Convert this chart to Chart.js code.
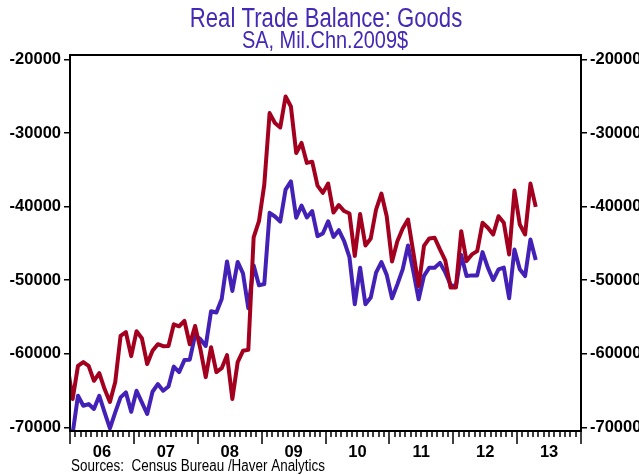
<!DOCTYPE html>
<html>
<head>
<meta charset="utf-8">
<script src="https://cdn.jsdelivr.net/npm/chart.js@4.4.0/dist/chart.umd.min.js"></script>
<style>
  html, body { margin: 0; padding: 0; background: #fff; }
  #wrap { width: 639px; height: 475px; }
</style>
</head>
<body>
<div id="wrap"><canvas id="tradeChart"></canvas></div>
<script>
// Monthly, Dec 2005 .. Apr 2013 (the Dec 2005 point sits just left of the axis and is cut off)
const firstYear = 2005, firstMonth = 11; // 0-based month, Dec
const yearLabels = ['06', '07', '08', '09', '10', '11', '12', '13'];
const yTicks = [-20000, -30000, -40000, -50000, -60000, -70000];

// red line
const redSeries = [
  -61500,
  -66140, -61630, -61120, -61630, -63660, -62620, -64780, -66540, -63830, -57560, -57060, -60310,
  -56920, -57870, -61390, -59590, -58690, -58960, -58920, -55980, -56250, -55530, -58690, -56210,
  -59360, -63160, -59090, -62480, -61940, -60180, -66140, -61120, -59590, -59460, -44190, -41980,
  -37010, -27290, -28640, -29240, -25040, -26400, -32710, -31350, -34060, -33890, -37140, -38130,
  -36870, -40800, -39780, -40600, -40930, -46690, -41000, -45270, -44320, -40390, -38220, -41300,
  -47440, -44690, -42970, -41750, -46220, -50790, -45340, -44320, -44230, -45810, -47300, -51000,
  -51000, -43330, -47400, -46490, -46040, -42190, -42870, -43780, -41300, -42190, -46490, -37820,
  -42430, -43780, -36870, -40030
];

// purple line
const blueSeries = [
  -70200,
  -70800, -65690, -67050, -66820, -67490, -65690, -67940, -70110, -67940, -65910, -65230, -67860,
  -65010, -66580, -68170, -65150, -64110, -65010, -64440, -61730, -62480, -60850, -60790, -57470,
  -58010, -58920, -54210, -54390, -52550, -47440, -51460, -47510, -49060, -53810, -47980, -50690,
  -50510, -40840, -41340, -42020, -37680, -36560, -41520, -39850, -41480, -40600, -44010, -43650,
  -41980, -44120, -43200, -44690, -46870, -53270, -48290, -53270, -52360, -48970, -47530, -49270,
  -52450, -50560, -48520, -45270, -48790, -52590, -49400, -48290, -48290, -47640, -48930, -50620,
  -50830, -46560, -49430, -49340, -49340, -46180, -48290, -49970, -48520, -48290, -52450, -45810,
  -48520, -49430, -44460, -47240
];

// x position in months from Jan 2006, points plotted mid-month
const monthPos = redSeries.map((v, i) => (firstYear - 2006) * 12 + firstMonth + i + 0.5);

const FONT = 'Arial, "Liberation Sans", sans-serif';

// narrow text: Arial squeezed sideways, like the Haver headline font
function narrowText(ctx, text, x, y, size, color, align, squeeze) {
  ctx.save();
  ctx.font = size + 'px ' + FONT;
  ctx.fillStyle = color;
  ctx.textAlign = align;
  ctx.textBaseline = 'alphabetic';
  ctx.translate(x, y);
  ctx.scale(squeeze, 1);
  ctx.fillText(text, 0, 0);
  ctx.restore();
}

const frameAndTicks = {
  id: 'frameAndTicks',
  afterDraw(chart) {
    const { ctx, chartArea: a, scales: { x } } = chart;
    ctx.save();
    ctx.strokeStyle = '#000';
    ctx.lineWidth = 1.5;
    ctx.beginPath();
    for (let m = 0; m <= 96; m++) {
      const px = Math.round(x.getPixelForValue(m));
      ctx.moveTo(px, a.bottom);
      ctx.lineTo(px, a.bottom + (m % 12 === 0 ? 13 : 6));
    }
    ctx.stroke();
    ctx.lineWidth = 2;
    ctx.strokeRect(a.left, a.top, a.right - a.left, a.bottom - a.top);
    ctx.restore();

    narrowText(ctx, 'Real Trade Balance: Goods', 326, 27, 27, '#4528B5', 'center', 0.82);
    narrowText(ctx, 'SA, Mil.Chn.2009$', 325, 48, 24, '#4528B5', 'center', 0.83);
    narrowText(ctx, 'Sources:  Census Bureau /Haver Analytics', 71, 471, 16, '#000', 'left', 0.84);
  }
};

const yScale = (pos, w) => ({
  type: 'linear',
  position: pos,
  min: -70480,
  max: -19400,
  afterBuildTicks: s => { s.ticks = yTicks.map(v => ({ value: v })); },
  afterFit: s => { s.width = w; },
  border: { display: false },
  grid: { drawOnChartArea: false, tickLength: 6, color: '#000', lineWidth: 1.5 },
  ticks: {
    color: '#000',
    padding: 3,
    font: { family: FONT, size: 16.5, weight: 'bold' },
    callback: v => String(v)
  }
});

new Chart(document.getElementById('tradeChart'), {
  type: 'line',
  data: {
    datasets: [
      {
        label: 'Red',
        data: redSeries.map((v, i) => ({ x: monthPos[i], y: v })),
        borderColor: '#A3001F',
        borderWidth: 4,
        pointRadius: 0,
        borderJoinStyle: 'round',
        clip: 0
      },
      {
        label: 'Purple',
        data: blueSeries.map((v, i) => ({ x: monthPos[i], y: v })),
        borderColor: '#4321B6',
        borderWidth: 4,
        pointRadius: 0,
        borderJoinStyle: 'round',
        clip: 0
      }
    ]
  },
  options: {
    responsive: true,
    maintainAspectRatio: false,
    animation: false,
    layout: { padding: { top: 55, left: 0, right: 0, bottom: 0 } },
    plugins: { legend: { display: false }, tooltip: { enabled: false } },
    scales: {
      x: {
        type: 'linear',
        min: 0,
        max: 96,
        afterBuildTicks: s => { s.ticks = yearLabels.map((l, i) => ({ value: i * 12 + 6 })); },
        afterFit: s => { s.height = 44; },
        border: { display: false },
        grid: { display: false },
        ticks: {
          color: '#000',
          padding: 4,
          maxRotation: 0,
          autoSkip: false,
          font: { family: FONT, size: 16.5, weight: 'bold' },
          callback: (v, i) => yearLabels[i]
        }
      },
      y: yScale('left', 70),
      y2: yScale('right', 58)
    }
  },
  plugins: [frameAndTicks]
});
</script>
</body>
</html>
